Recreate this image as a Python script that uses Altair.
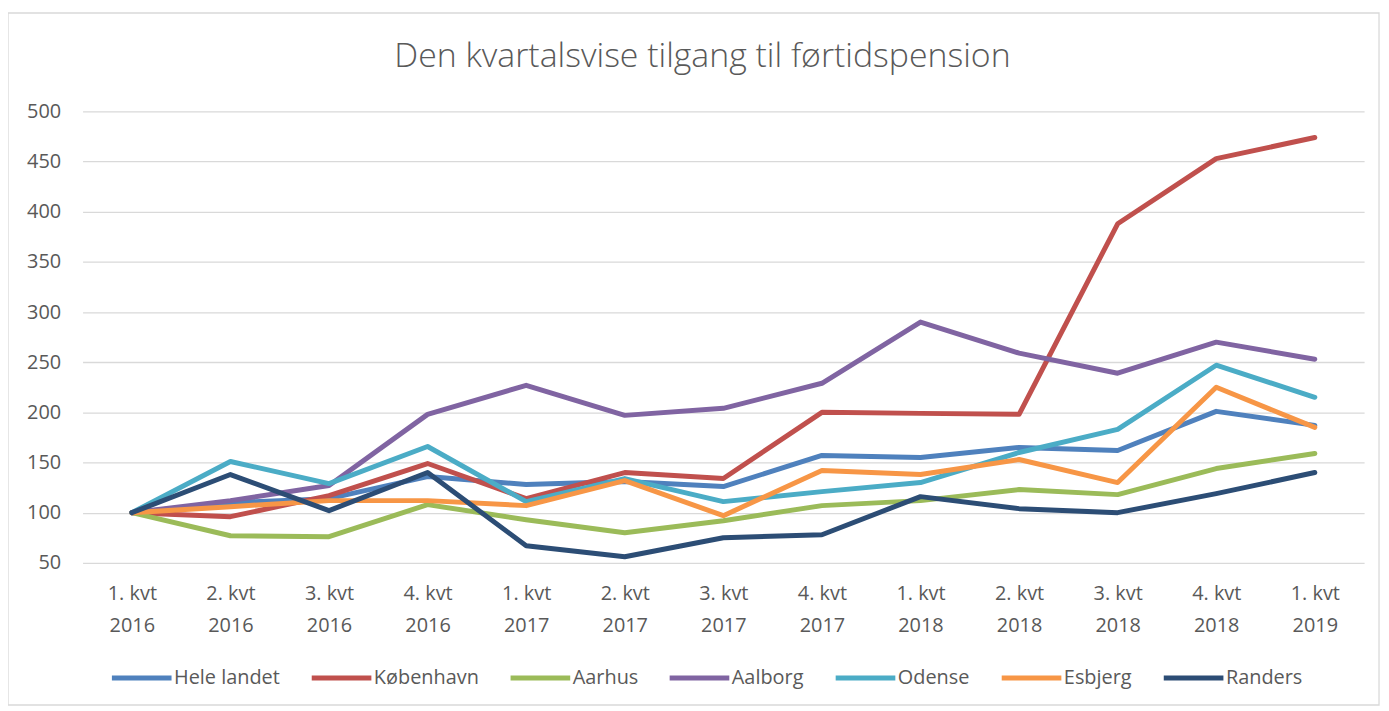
import altair as alt
import pandas as pd

quarters = ["1. kvt\n2016", "2. kvt\n2016", "3. kvt\n2016", "4. kvt\n2016",
            "1. kvt\n2017", "2. kvt\n2017", "3. kvt\n2017", "4. kvt\n2017",
            "1. kvt\n2018", "2. kvt\n2018", "3. kvt\n2018", "4. kvt\n2018",
            "1. kvt\n2019"]

series_names = ["Hele landet", "København", "Aarhus", "Aalborg", "Odense", "Esbjerg", "Randers"]
series_colors = ["#4F81BD", "#C0504D", "#9BBB59", "#8064A2", "#4BACC6", "#F79646", "#2C4D75"]

hele_landet = [100, 110, 114, 136, 128, 131, 126, 157, 155, 165, 162, 201, 187]
koebenhavn = [100, 96, 117, 149, 114, 140, 134, 200, 199, 198, 388, 453, 474]
aarhus = [100, 77, 76, 108, 93, 80, 92, 107, 112, 123, 118, 144, 159]
aalborg = [100, 112, 127, 198, 227, 197, 204, 229, 290, 259, 239, 270, 253]
odense = [100, 151, 129, 166, 111, 134, 111, 121, 130, 160, 183, 247, 215]
esbjerg = [100, 106, 112, 112, 107, 132, 97, 142, 138, 153, 130, 225, 185]
randers = [100, 138, 102, 140, 67, 56, 75, 78, 116, 104, 100, 119, 140]

y_ticks = [50, 100, 150, 200, 250, 300, 350, 400, 450, 500]

all_values = [hele_landet, koebenhavn, aarhus, aalborg, odense, esbjerg, randers]
rows = []
for s_idx, (name, vals) in enumerate(zip(series_names, all_values)):
    for q_idx, (q, v) in enumerate(zip(quarters, vals)):
        rows.append({"Kvartal": q, "Serie": name, "Værdi": v, "order": s_idx})
df = pd.DataFrame(rows)

FONT = "Open Sans"
TXT = "#595959"

lines = alt.Chart(df).mark_line(
    strokeWidth=5, strokeCap="round", strokeJoin="round"
).encode(
    x=alt.X("Kvartal:N", sort=quarters,
            scale=alt.Scale(type="point", padding=0.5),
            axis=alt.Axis(title=None, labelAngle=0, domain=False, ticks=False,
                          labelExpr="split(datum.label, '\\n')",
                          labelFont=FONT, labelFontSize=20, labelColor=TXT,
                          labelLineHeight=32, labelPadding=21, grid=False)),
    y=alt.Y("Værdi:Q",
            scale=alt.Scale(domain=[50, 500], nice=False, zero=False),
            axis=alt.Axis(title=None, values=y_ticks, domain=False, ticks=False,
                          labelFont=FONT, labelFontSize=20, labelColor=TXT,
                          labelPadding=22, grid=True, gridColor="#d9d9d9",
                          gridWidth=1.3)),
    color=alt.Color("Serie:N",
                    scale=alt.Scale(domain=series_names, range=series_colors),
                    legend=alt.Legend(title=None, orient="none", legendX=27, legendY=537,
                                      direction="horizontal", columns=7,
                                      symbolType="stroke", symbolSize=3600,
                                      symbolStrokeWidth=5,
                                      labelFont=FONT, labelFontSize=20, labelColor=TXT,
                                      labelOffset=0, columnPadding=21)),
    detail="order:O",
    order="order:Q",
)

border = alt.Chart(alt.Data(values=[{"a": 1}])).mark_rect(
    fill=None, stroke="#d9d9d9", strokeWidth=1.3
).encode(
    x=alt.value(-75), x2=alt.value(1304), y=alt.value(-99), y2=alt.value(597)
)

chart = alt.layer(border, lines).properties(
    width=1289,
    height=454,
    padding={"left": 75, "top": 102, "right": 17, "bottom": 147},
    autosize=alt.AutoSizeParams(type="none"),
    title=alt.TitleParams("Den kvartalsvise tilgang til førtidspension",
                          font=FONT, fontSize=34, fontWeight=300, color=TXT,
                          anchor="middle", dx=-21, offset=-89, baseline="alphabetic"),
).configure_view(stroke=None)

chart.save("out.html", embed_options={"renderer": "svg", "actions": False})
